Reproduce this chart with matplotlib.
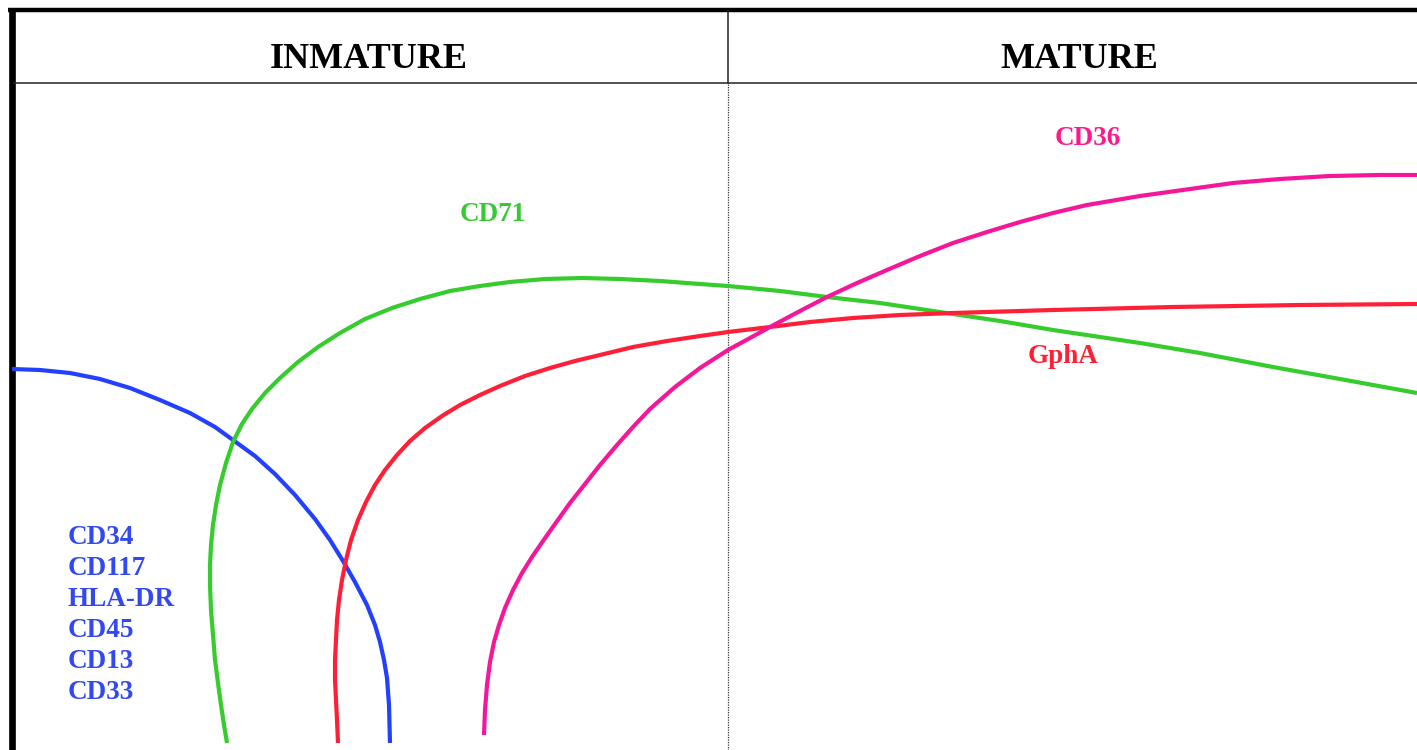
"""
Erythroid maturation: antigen expression curves, INMATURE -> MATURE.
Coordinates are read off the reference in pixel units (x right, y down).
"""
import matplotlib
matplotlib.use("Agg")
import matplotlib.pyplot as plt

W, H = 1417, 750

# ── curve samples (x, y) ──────────────────────────────────────────────────────
blue_x = [12, 40, 70, 100, 130, 160, 190, 215, 233, 255, 275, 295, 315, 330,
          343, 355, 367, 375, 380, 384, 387, 389, 390]
blue_y = [369, 370, 373, 379, 388, 400, 413, 427, 440, 456, 474, 495, 519, 540,
          561, 582, 605, 625, 642, 660, 678, 705, 743]

green_x = [227, 224, 221, 218, 215, 213, 211, 210, 210, 211, 213, 216, 220, 226,
           233, 242, 252, 265, 280, 298, 318, 340, 365, 392, 420, 450, 480, 510,
           545, 583, 620, 660, 700, 728, 780, 827, 880, 953, 1000, 1053, 1100,
           1140, 1200, 1273, 1340, 1417]
green_y = [743, 725, 705, 683, 660, 635, 610, 585, 565, 545, 525, 505, 485, 463,
           442, 424, 409, 393, 378, 362, 347, 333, 319, 308, 299, 291, 286, 282,
           279, 278, 279, 281, 284, 286, 291, 297, 303, 314, 321, 330, 337,
           343, 353, 367, 379, 393]

red_x = [338, 337, 336, 335, 335, 336, 337, 339, 342, 346, 351, 358, 366, 375,
         385, 397, 410, 425, 442, 460, 480, 500, 525, 550, 575, 600, 633, 667,
         700, 728, 770, 810, 853, 900, 953, 1053, 1173, 1300, 1417]
red_y = [743, 720, 700, 680, 660, 640, 620, 600, 580, 560, 540, 520, 502, 485,
         470, 455, 441, 428, 416, 405, 395, 386, 376, 368, 361, 355, 347, 341,
         336, 332, 327, 322, 318, 315, 313, 310, 307, 305, 304]

pink_x = [484, 485, 487, 490, 494, 499, 505, 513, 522, 532, 543, 555, 570, 585,
          600, 617, 633, 650, 675, 700, 728, 750, 770, 800, 827, 857, 887, 920,
          953, 987, 1020, 1053, 1087, 1140, 1190, 1233, 1280, 1330, 1380, 1417]
pink_y = [735, 710, 685, 662, 642, 625, 608, 590, 573, 557, 541, 524, 503, 484,
          465, 445, 427, 409, 387, 368, 350, 338, 327, 311, 297, 283, 270, 256,
          243, 232, 222, 213, 205, 196, 189, 183, 179, 176, 175, 175]

stages = ["INMATURE", "MATURE"]
early_markers = ["CD34", "CD117", "HLA-DR", "CD45", "CD13", "CD33"]

BLUE = "#2340ff"
GREEN = "#36cc2e"
RED = "#ff1f36"
PINK = "#f5179a"

plt.rcParams["font.family"] = ["Liberation Serif", "DejaVu Serif"]

fig = plt.figure(figsize=(W / 100, H / 100), dpi=100)
ax = fig.add_axes([0, 0, 1, 1])
ax.set_xlim(0, W)
ax.set_ylim(H, 0)
ax.axis("off")

# ── frame / table lines ──────────────────────────────────────────────────────
ax.plot([8, W], [10, 10], color="black", lw=3.2, solid_capstyle="butt")
ax.plot([11.5, 11.5], [8, H], color="black", lw=4.8, solid_capstyle="butt")
ax.plot([14, W], [83, 83], color="#222222", lw=1.1)
ax.plot([728, 728], [11, 83], color="#222222", lw=1.1)
ax.plot([728, 728], [84, H], color="#333333", lw=0.9, ls=(0, (1, 1)))

# ── curves ───────────────────────────────────────────────────────────────────
for xs, ys, c in [(blue_x, blue_y, BLUE), (green_x, green_y, GREEN),
                  (red_x, red_y, RED), (pink_x, pink_y, PINK)]:
    ax.plot(xs, ys, color=c, lw=3.0, solid_capstyle="butt",
            solid_joinstyle="round")

# ── text ─────────────────────────────────────────────────────────────────────
ax.text(369, 68, stages[0], ha="center", va="baseline", fontsize=26,
        fontweight="bold", color="black")
ax.text(1079, 68, stages[1], ha="center", va="baseline", fontsize=26,
        fontweight="bold", color="black")

for i, lab in enumerate(early_markers):
    ax.text(68, 544 + i * 31, lab, ha="left", va="baseline", fontsize=19.5,
            fontweight="bold", color="#3248f0")

ax.text(493, 221, "CD71", ha="center", va="baseline", fontsize=19.5,
        fontweight="bold", color="#38c832")
ax.text(1088, 145, "CD36", ha="center", va="baseline", fontsize=19.5,
        fontweight="bold", color="#ff1a8c")
ax.text(1063, 363, "GphA", ha="center", va="baseline", fontsize=19.5,
        fontweight="bold", color="#ff2035")

fig.savefig("out.png", dpi=100)
